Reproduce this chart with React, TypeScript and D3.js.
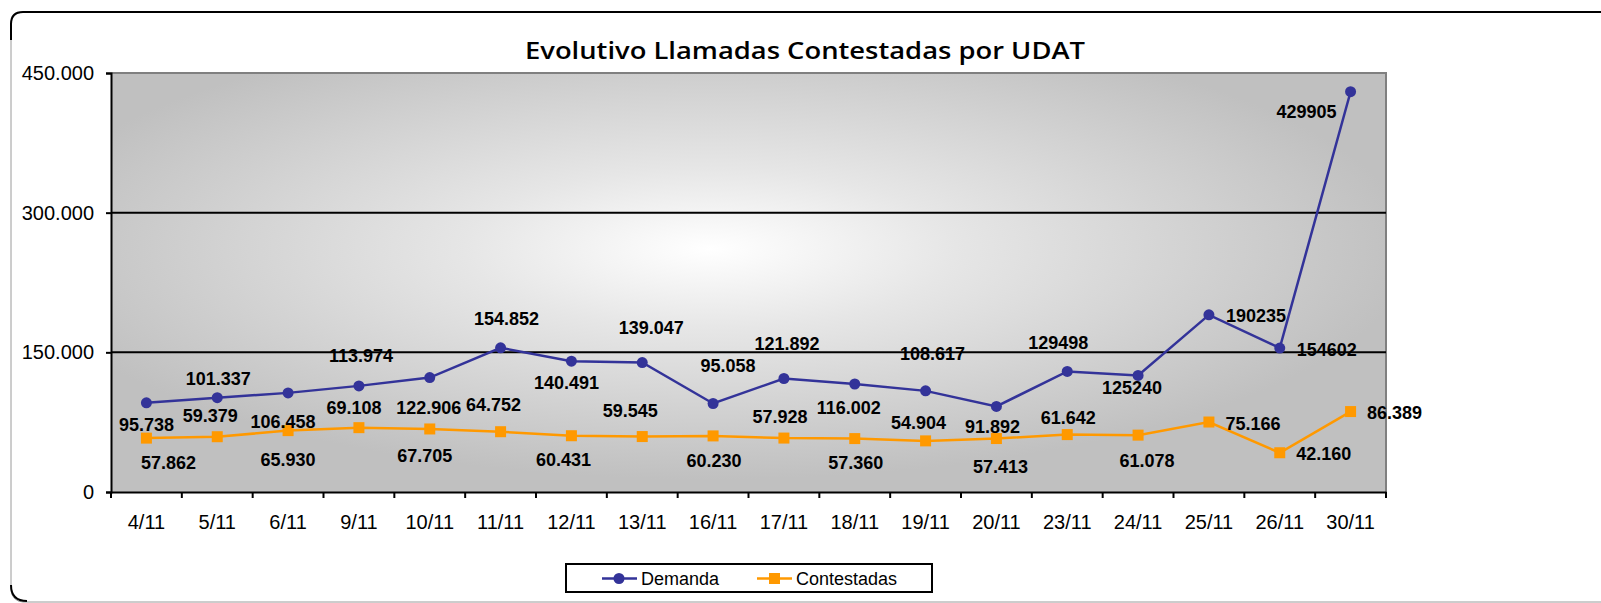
import React, { useEffect, useRef } from 'react';
import * as d3 from 'd3';

const categories = ['4/11', '5/11', '6/11', '9/11', '10/11', '11/11', '12/11', '13/11', '16/11', '17/11', '18/11', '19/11', '20/11', '23/11', '24/11', '25/11', '26/11', '30/11'];
const demanda = [95738, 101337, 106458, 113974, 122906, 154852, 140491, 139047, 95058, 121892, 116002, 108617, 91892, 129498, 125240, 190235, 154602, 429905];
const contestadas = [57862, 59379, 65930, 69108, 67705, 64752, 60431, 59545, 60230, 57928, 57360, 54904, 57413, 61642, 61078, 75166, 42160, 86389];
const yTicks = [0, 150000, 300000, 450000];
// Excel wrote the last Demanda labels without thousands separator
const plainLabelFrom = 13;

// label offsets (text centre relative to the marker), as placed in the original sheet
const demandaLabelOffset: [number, number][] = [
  [0, 22], [1, -19], [-5, 29], [2, -30], [-1, 30], [6, -29], [-5, 22], [9, -35], [15, -37],
  [3, -35], [-6, 24], [7, -37], [-4, 21], [-9, -28], [-6, 13], [47, 1], [47, 2], [-44, 20]
];
const contestadasLabelOffset: [number, number][] = [
  [22, 25], [-7, -21], [0, 29], [-5, -20], [-5, 27], [-7, -27], [-8, 24], [-12, -26], [1, 25],
  [-4, -21], [1, 24], [-7, -18], [4, 28], [1, -17], [9, 26], [44, 2], [44, 1], [44, 1]
];

const W = 1601;
const H = 603;
const AXIS_FONT = '"Liberation Sans", Arial, sans-serif';

const esLocale = d3.formatLocale({ decimal: ',', thousands: '.', grouping: [3], currency: ['', ''] });
const fmt = esLocale.format(',.0f');

export default function App() {
  const svgRef = useRef<SVGSVGElement>(null);

  useEffect(() => {
    const svg = d3.select(svgRef.current);
    svg.selectAll('*').remove();

    const margin = { top: 73, right: W - 1386, bottom: H - 492, left: 111 };
    const left = margin.left;
    const right = W - margin.right;
    const top = margin.top;
    const bottom = H - margin.bottom;

    const x = d3.scaleBand<string>().domain(categories).range([left, right]).paddingInner(0).paddingOuter(0);
    const y = d3.scaleLinear().domain([0, 450000]).range([bottom, top]);
    const cx = (i: number) => (x(categories[i]) as number) + x.bandwidth() / 2;

    // chart card
    svg.append('rect')
      .attr('x', 11).attr('y', 12)
      .attr('width', W + 20).attr('height', H - 13)
      .attr('rx', 12)
      .attr('fill', '#fff')
      .attr('stroke', '#9a9a9a')
      .attr('stroke-width', 1);
    svg.append('path')
      .attr('d', `M11,40 L11,24 Q11,12 23,12 L${W},12`)
      .attr('fill', 'none').attr('stroke', '#000').attr('stroke-width', 2);
    svg.append('path')
      .attr('d', `M11,585 Q11,601 27,601`)
      .attr('fill', 'none').attr('stroke', '#000').attr('stroke-width', 2);

    // background gradient
    const defs = svg.append('defs');
    const grad = defs.append('radialGradient')
      .attr('id', 'plot-bg')
      .attr('cx', 0.47).attr('cy', 0.42).attr('r', 0.55);
    grad.append('stop').attr('offset', '0%').attr('stop-color', '#ffffff');
    grad.append('stop').attr('offset', '35%').attr('stop-color', '#e6e6e6');
    grad.append('stop').attr('offset', '100%').attr('stop-color', '#c0c0c0');

    svg.append('rect')
      .attr('x', left).attr('y', top)
      .attr('width', right - left).attr('height', bottom - top)
      .attr('fill', 'url(#plot-bg)');

    // plot border top/right (grey)
    svg.append('path')
      .attr('d', `M${left},${top} L${right},${top} L${right},${bottom}`)
      .attr('fill', 'none').attr('stroke', '#808080').attr('stroke-width', 2);

    // gridlines
    svg.append('g')
      .selectAll('line')
      .data(yTicks.filter(t => t > 0 && t < 450000))
      .enter()
      .append('line')
      .attr('x1', left).attr('x2', right)
      .attr('y1', d => y(d)).attr('y2', d => y(d))
      .attr('stroke', '#000').attr('stroke-width', 2);

    // Y axis
    const yAxis = svg.append('g')
      .attr('transform', `translate(${left},0)`)
      .call(d3.axisLeft(y).tickValues(yTicks).tickSize(5).tickPadding(12).tickFormat(d => (+d === 0 ? '0' : fmt(+d))));
    yAxis.select('.domain').attr('stroke', '#000').attr('stroke-width', 2);
    yAxis.selectAll('.tick line').attr('stroke', '#000').attr('stroke-width', 2);
    yAxis.selectAll('text')
      .style('font-family', AXIS_FONT)
      .style('font-size', '20px')
      .attr('fill', '#000');

    // X axis
    const xAxis = svg.append('g')
      .attr('transform', `translate(0,${bottom})`)
      .call(d3.axisBottom(x).tickSize(0).tickPadding(23));
    xAxis.select('.domain').attr('stroke', '#000').attr('stroke-width', 2);
    xAxis.selectAll('text')
      .style('font-family', AXIS_FONT)
      .style('font-size', '20px')
      .attr('fill', '#000');
    svg.append('g')
      .selectAll('line')
      .data(d3.range(categories.length + 1))
      .enter()
      .append('line')
      .attr('x1', i => left + i * x.bandwidth())
      .attr('x2', i => left + i * x.bandwidth())
      .attr('y1', bottom).attr('y2', bottom + 6)
      .attr('stroke', '#000').attr('stroke-width', 2);

    const series = [
      { name: 'Demanda', values: demanda, color: '#333399', shape: 'circle', offsets: demandaLabelOffset },
      { name: 'Contestadas', values: contestadas, color: '#FF9900', shape: 'square', offsets: contestadasLabelOffset }
    ];

    const line = d3.line<number>()
      .x((d, i) => cx(i))
      .y(d => y(d));

    series.slice().reverse().forEach(s => {
      svg.append('path')
        .datum(s.values)
        .attr('d', line)
        .attr('fill', 'none')
        .attr('stroke', s.color)
        .attr('stroke-width', 2.5);

      const g = svg.append('g');
      if (s.shape === 'circle') {
        g.selectAll('circle')
          .data(s.values)
          .enter()
          .append('circle')
          .attr('cx', (d, i) => cx(i))
          .attr('cy', d => y(d))
          .attr('r', 5.5)
          .attr('fill', s.color);
      } else {
        g.selectAll('rect')
          .data(s.values)
          .enter()
          .append('rect')
          .attr('x', (d, i) => cx(i) - 5.5)
          .attr('y', d => y(d) - 5.5)
          .attr('width', 11).attr('height', 11)
          .attr('fill', s.color);
      }
    });

    // data labels
    series.forEach(s => {
      svg.append('g')
        .selectAll('text')
        .data(s.values)
        .enter()
        .append('text')
        .attr('x', (d, i) => cx(i) + s.offsets[i][0])
        .attr('y', (d, i) => y(d) + s.offsets[i][1])
        .attr('text-anchor', 'middle')
        .attr('dominant-baseline', 'central')
        .style('font-family', AXIS_FONT)
        .style('font-size', '18px')
        .style('font-weight', 'bold')
        .attr('fill', '#000')
        .text((d, i) => (s.name === 'Demanda' && i >= plainLabelFrom ? String(d) : fmt(d)));
    });

    // title
    svg.append('text')
      .attr('x', 805).attr('y', 59)
      .attr('text-anchor', 'middle')
      .attr('textLength', 560)
      .attr('lengthAdjust', 'spacingAndGlyphs')
      .style('font-family', '"Open Sans", "DejaVu Sans", sans-serif')
      .style('font-size', '23px')
      .style('font-weight', 600)
      .attr('fill', '#000')
      .text('Evolutivo Llamadas Contestadas por UDAT');

    // legend
    const legend = svg.append('g');
    legend.append('rect')
      .attr('x', 566).attr('y', 564)
      .attr('width', 366).attr('height', 28)
      .attr('fill', '#fff').attr('stroke', '#000').attr('stroke-width', 2);
    const legendX = [602, 757];
    series.forEach((s, k) => {
      const lx = legendX[k];
      const ly = 578.5;
      legend.append('line')
        .attr('x1', lx).attr('x2', lx + 35)
        .attr('y1', ly).attr('y2', ly)
        .attr('stroke', s.color).attr('stroke-width', 2.5);
      if (s.shape === 'circle') {
        legend.append('circle').attr('cx', lx + 17).attr('cy', ly).attr('r', 5.5).attr('fill', s.color);
      } else {
        legend.append('rect').attr('x', lx + 12).attr('y', ly - 5.5).attr('width', 11).attr('height', 11).attr('fill', s.color);
      }
      legend.append('text')
        .attr('x', lx + 39).attr('y', ly)
        .attr('dominant-baseline', 'central')
        .style('font-family', AXIS_FONT)
        .style('font-size', '18px')
        .attr('fill', '#000')
        .text(s.name);
    });
  }, []);

  return (
    <svg
      ref={svgRef}
      width={W}
      height={H}
      style={{ position: 'absolute', left: 0, top: 0, display: 'block', background: '#fff' }}
    />
  );
}
